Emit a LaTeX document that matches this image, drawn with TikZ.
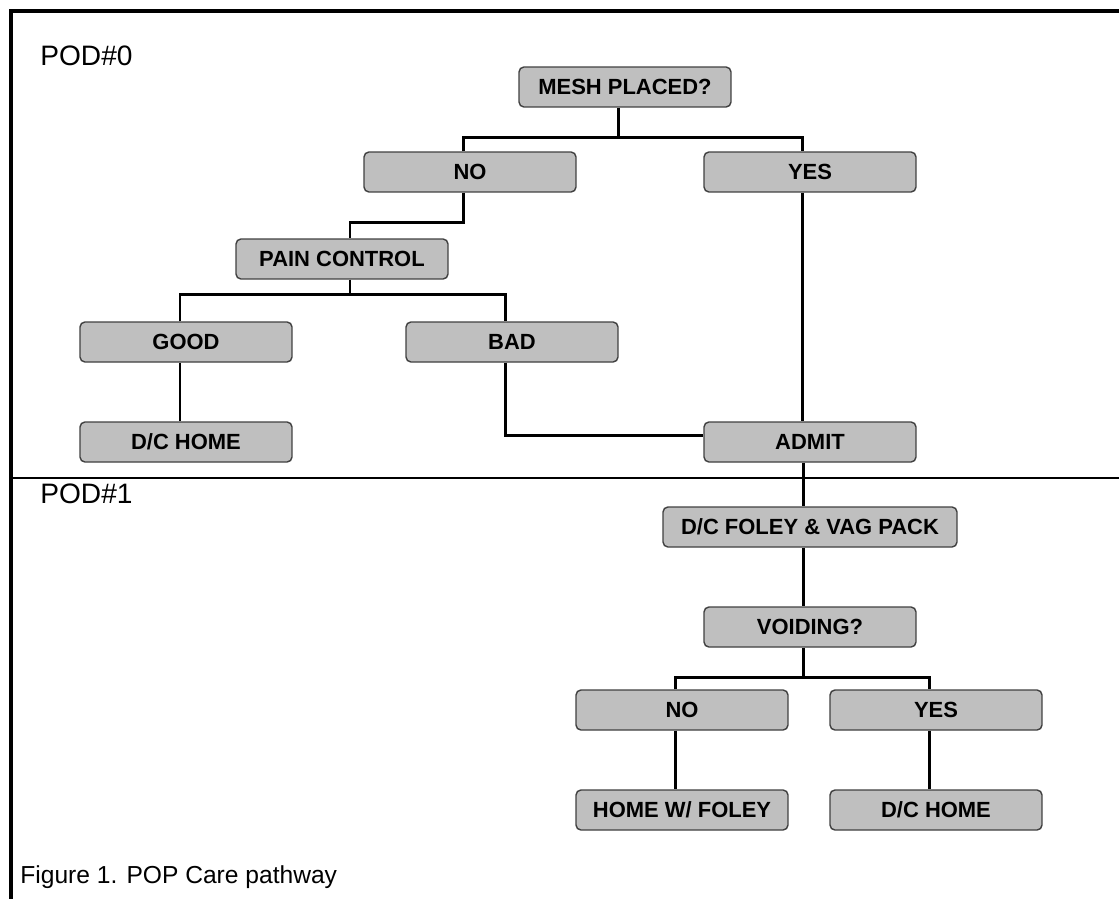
\documentclass[tikz,border=0pt]{standalone}
\usepackage{fontspec}
\setmainfont{Liberation Sans}

\begin{document}
\begin{tikzpicture}[x=0.02cm, y=-0.02cm]
    \tikzset{stage/.style={draw=black!75, fill=black!25, rounded corners=2.8pt, line width=0.8pt,
        minimum width=4.24cm, minimum height=0.8cm, inner sep=0pt,
        font=\bfseries\fontsize{12.5}{14}\selectfont}}
    \tikzset{link/.style={line width=1.7pt}}
    \tikzset{label/.style={anchor=west, inner sep=0pt, font=\fontsize{16}{18}\selectfont}}

    % page size
    \useasboundingbox (0,0) rectangle (1119,899);

    % frame and day divider
    \draw[line width=2.2pt] (11,899) -- (11,11) -- (1119,11);
    \draw[line width=0.8pt] (11,478) -- (1119,478);

    % texts
    \node[label] (pod0) at (40,56) {POD\#0};
    \node[label] (pod1) at (40,494) {POD\#1};
    \node[label, font=\fontsize{14}{16}\selectfont] (caption) at (20,877) {Figure 1. POP Care pathway};

    % boxes: day 0
    \node[stage] (mesh)    at (625,87)  {MESH PLACED?};
    \node[stage] (no1)     at (470,172) {NO};
    \node[stage] (yes1)    at (810,172) {YES};
    \node[stage] (pain)    at (342,259) {PAIN CONTROL};
    \node[stage] (good)    at (186,342) {GOOD};
    \node[stage] (bad)     at (512,342) {BAD};
    \node[stage] (dchome1) at (186,442) {D/C HOME};
    \node[stage] (admit)   at (810,442) {ADMIT};

    % boxes: day 1
    \node[stage, minimum width=5.88cm] (foley) at (810,527) {D/C FOLEY \& VAG PACK};
    \node[stage] (voiding)   at (810,627) {VOIDING?};
    \node[stage] (no2)       at (682,710) {NO};
    \node[stage] (yes2)      at (936,710) {YES};
    \node[stage] (homefoley) at (682,810) {HOME W/ FOLEY};
    \node[stage] (dchome2)   at (936,810) {D/C HOME};

    % forks
    \coordinate (mesh fork)    at ([xshift=-0.14cm, yshift=-0.6cm]mesh.south);
    \coordinate (pain fork)    at ([xshift=0.16cm, yshift=-0.3cm]pain.south);
    \coordinate (voiding fork) at ([xshift=-0.14cm, yshift=-0.6cm]voiding.south);

    % connectors
    \draw[link] ([xshift=-0.14cm]mesh.south) -- (mesh fork);
    \draw[link] ([xshift=-0.14cm]no1.north) |- (mesh fork) -| ([xshift=-0.16cm]yes1.north);
    \draw[link] ([xshift=-0.14cm]no1.south) -- ++(0,-0.6cm) -| ([xshift=0.16cm]pain.north);
    \draw[link] ([xshift=0.16cm]pain.south) -- (pain fork);
    \draw[link] ([xshift=-0.12cm]good.north) |- (pain fork) -| ([xshift=-0.14cm]bad.north);
    \draw[link] ([xshift=-0.12cm]good.south) -- ([xshift=-0.12cm]dchome1.north);
    \draw[link] ([xshift=-0.14cm]bad.south) |- ([yshift=0.14cm]admit.west);
    \draw[link] ([xshift=-0.16cm]yes1.south) -- ([xshift=-0.16cm]admit.north);
    \draw[link] ([xshift=-0.14cm]admit.south) -- ([xshift=-0.14cm]foley.north);
    \draw[link] ([xshift=-0.14cm]foley.south) -- ([xshift=-0.14cm]voiding.north);
    \draw[link] ([xshift=-0.14cm]voiding.south) -- (voiding fork);
    \draw[link] ([xshift=-0.14cm]no2.north) |- (voiding fork) -| ([xshift=-0.14cm]yes2.north);
    \draw[link] ([xshift=-0.14cm]no2.south) -- ([xshift=-0.14cm]homefoley.north);
    \draw[link] ([xshift=-0.14cm]yes2.south) -- ([xshift=-0.14cm]dchome2.north);

\end{tikzpicture}
\end{document}
